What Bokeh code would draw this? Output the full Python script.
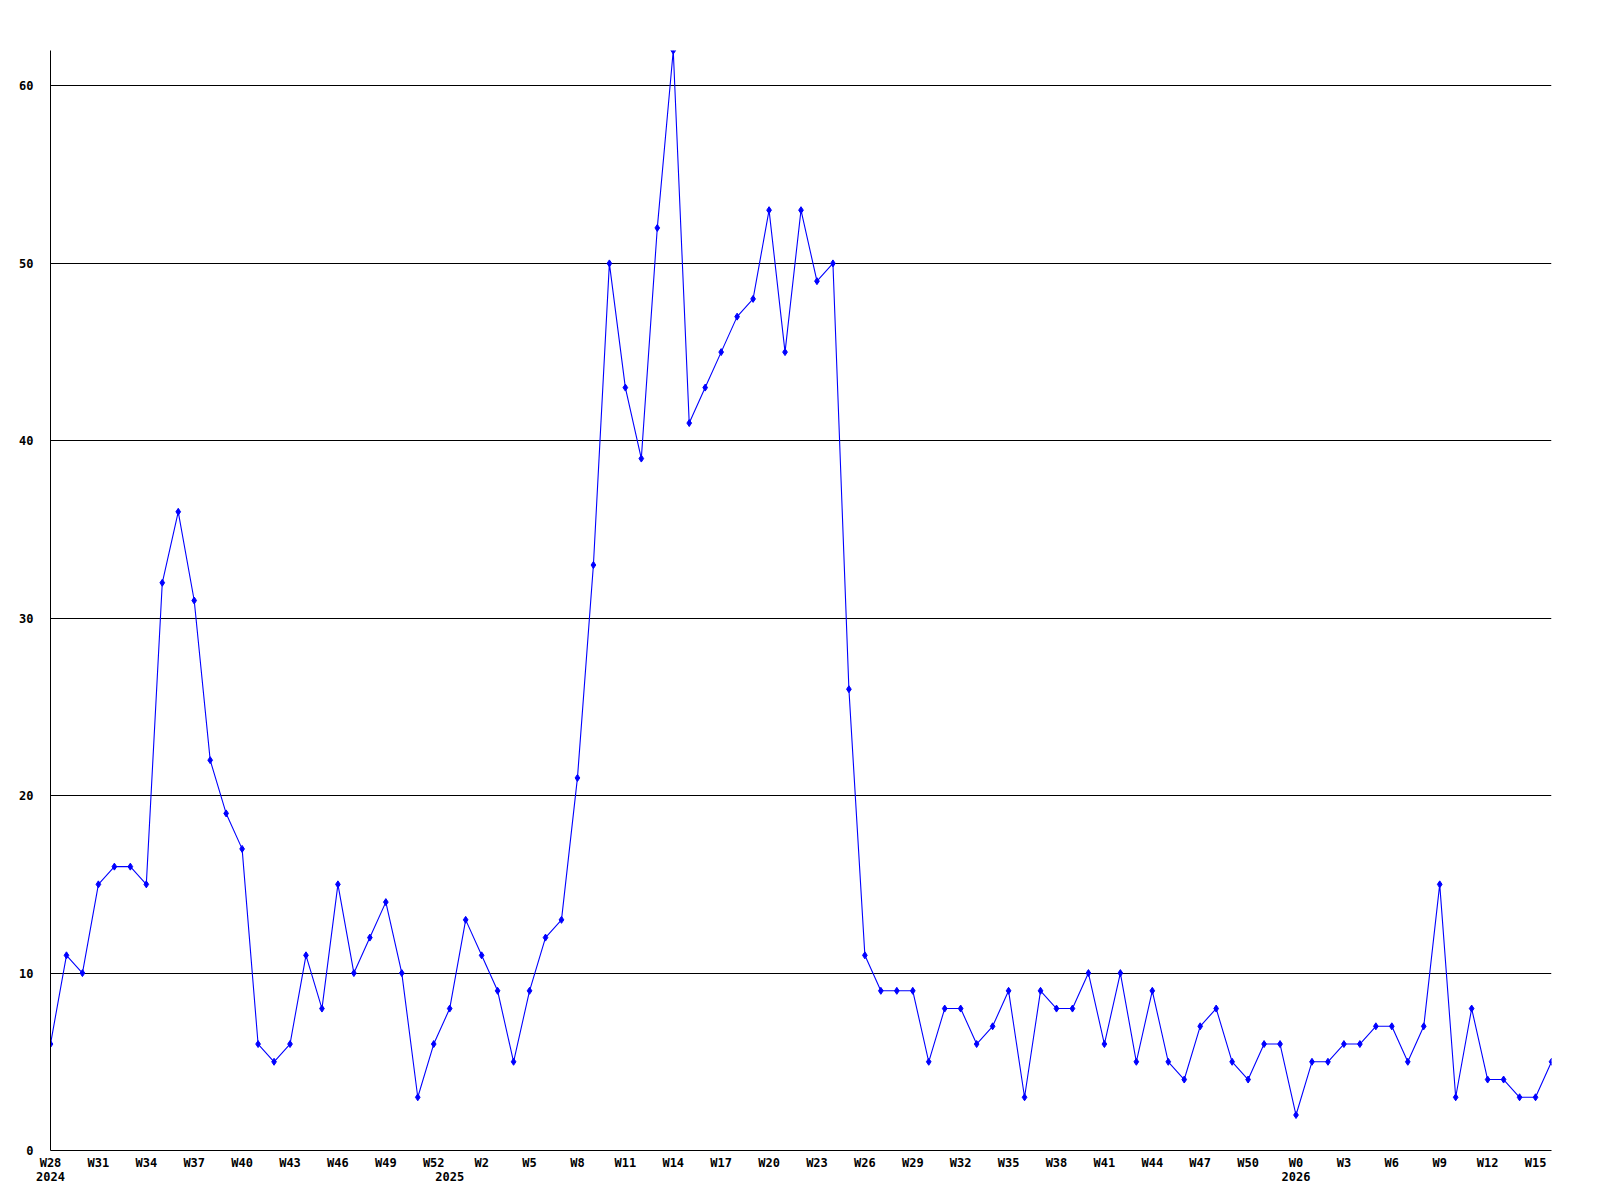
from bokeh.plotting import figure
from bokeh.models import Range1d, FixedTicker, LinearAxis
from bokeh.embed import file_html
from bokeh.resources import INLINE

# Week categories: (year, first week, last week) as shown on the axis (%W style numbering)
year_segments = [(2024, 28, 52), (2025, 0, 52), (2026, 0, 16)]
week_labels = []
week_years = []
for yr, w0, w1 in year_segments:
    for w in range(w0, w1 + 1):
        week_labels.append(f"W{w}")
        week_years.append(yr)

# Weekly values
counts = [
    6, 11, 10, 15, 16, 16, 15, 32, 36, 31, 22, 19, 17,
    6, 5, 6, 11, 8, 15, 10, 12, 14, 10, 3, 6, 8,
    13, 11, 9, 5, 9, 12, 13, 21, 33,
    50, 43, 39, 52, 62, 41, 43, 45, 47, 48, 53, 45, 53, 49, 50, 26,
    11, 9, 9, 9, 5, 8, 8, 6, 7, 9, 3, 9, 8, 8, 10, 6, 10, 5, 9, 5, 4, 7, 8, 5,
    4, 6, 6, 2, 5, 5, 6, 6, 7, 7, 5, 7, 15, 3, 8, 4, 4, 3, 3, 5,
]
y_ticks = [0, 10, 20, 30, 40, 50, 60]
label_step = 3

x = list(range(len(counts)))
week_tick_idx = list(range(0, len(counts), label_step))
year_tick_idx = [i for i in range(len(counts)) if i == 0 or week_years[i] != week_years[i - 1]]

FONT = "DejaVu Sans Mono"

p = figure(width=1596, height=1196, output_backend="svg", toolbar_location=None,
           x_range=Range1d(0, len(counts) - 1), y_range=Range1d(0, max(counts)),
           min_border_left=50, min_border_right=45, min_border_top=50, min_border_bottom=46,
           outline_line_color=None, background_fill_color="white", border_fill_color="white")

p.line(x, counts, line_color="#0000ff", line_width=1.1)
p.scatter(x, counts, marker="diamond", size=7, color="#0000ff")

p.xgrid.visible = False
p.ygrid.ticker = FixedTicker(ticks=y_ticks)
p.ygrid.grid_line_color = "black"
p.ygrid.grid_line_width = 1

for ax in (p.xaxis[0], p.yaxis[0]):
    ax.axis_line_color = "black"
    ax.major_tick_out = 0
    ax.major_tick_in = 0
    ax.minor_tick_line_color = None
    ax.major_label_text_font = FONT
    ax.major_label_text_font_style = "bold"
    ax.major_label_text_font_size = "12px"
    ax.major_label_text_color = "black"

p.xaxis[0].ticker = FixedTicker(ticks=week_tick_idx)
p.xaxis[0].major_label_overrides = {i: week_labels[i] for i in week_tick_idx}
p.xaxis[0].major_label_standoff = 5

p.yaxis[0].ticker = FixedTicker(ticks=y_ticks)
p.yaxis[0].major_label_standoff = 17
p.yaxis[0].major_label_text_align = "left"

year_axis = LinearAxis(ticker=FixedTicker(ticks=year_tick_idx),
                       major_label_overrides={i: str(week_years[i]) for i in year_tick_idx},
                       axis_line_color=None, major_tick_line_color=None,
                       minor_tick_line_color=None, major_label_standoff=-7,
                       major_label_text_font=FONT, major_label_text_font_style="bold",
                       major_label_text_font_size="12px", major_label_text_color="black")
p.add_layout(year_axis, "below")

open("out.html", "w").write(file_html(p, INLINE))
